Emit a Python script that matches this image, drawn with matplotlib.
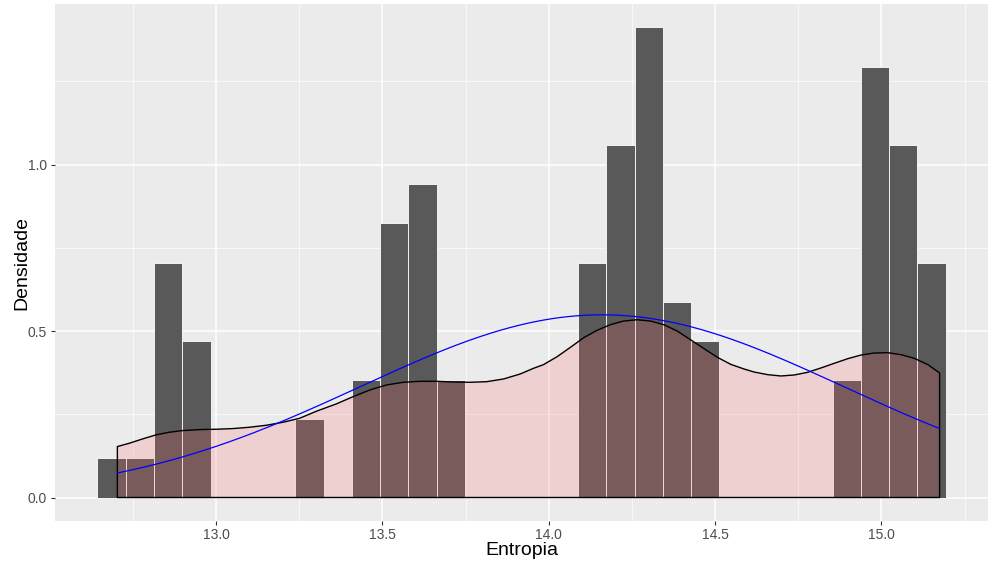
import numpy as np
import matplotlib
matplotlib.use("Agg")
import matplotlib.pyplot as plt
from matplotlib.ticker import MultipleLocator

plt.rcParams['font.family'] = ['Liberation Sans', 'DejaVu Sans']

# histogram: 30 bins, counts out of n = 100
bin_start = 12.643
bin_width = 0.085
counts = [1, 1, 6, 4, 0, 0, 0, 2, 0, 3, 7, 8, 3, 0, 0,
          0, 0, 6, 9, 12, 5, 4, 0, 0, 0, 0, 3, 11, 9, 6]
n_obs = 100

# kernel density curve
kde_x = [12.703, 12.739, 12.779, 12.819, 12.859, 12.899, 12.950, 13.000,
         13.050, 13.100, 13.151, 13.201, 13.251, 13.301, 13.361, 13.412,
         13.462, 13.512, 13.562, 13.613, 13.663, 13.713, 13.763, 13.814,
         13.864, 13.914, 13.954, 13.984, 14.025, 14.065, 14.105, 14.145,
         14.185, 14.225, 14.266, 14.306, 14.346, 14.386, 14.426, 14.467,
         14.507, 14.547, 14.587, 14.617, 14.658, 14.698, 14.738, 14.778,
         14.818, 14.858, 14.899, 14.939, 14.979, 15.019, 15.059, 15.099,
         15.140, 15.175]
kde_y = [0.153, 0.163, 0.176, 0.188, 0.196, 0.201, 0.204, 0.205,
         0.207, 0.211, 0.217, 0.226, 0.238, 0.259, 0.281, 0.303,
         0.323, 0.338, 0.346, 0.349, 0.349, 0.347, 0.346, 0.348,
         0.356, 0.371, 0.388, 0.399, 0.423, 0.451, 0.480, 0.502,
         0.519, 0.530, 0.534, 0.530, 0.519, 0.500, 0.474, 0.447,
         0.421, 0.400, 0.386, 0.377, 0.369, 0.365, 0.368, 0.376,
         0.389, 0.403, 0.417, 0.428, 0.434, 0.435, 0.429, 0.418,
         0.399, 0.374]

# normal curve parameters (mean / sd of the sample)
norm_mean = 14.16
norm_sd = 0.727

edges = bin_start + bin_width * np.arange(len(counts) + 1)
dens = np.array(counts) / (n_obs * bin_width)

fig = plt.figure(figsize=(9.91, 5.66), dpi=100)
ax = fig.add_axes([55 / 991, 45 / 566, 933 / 991, 517 / 566])
ax.set_facecolor('#EBEBEB')
for s in ax.spines.values():
    s.set_visible(False)

ax.bar(edges[:-1], dens, width=bin_width, align='edge', color='#595959',
       edgecolor='white', linewidth=0.6, zorder=2)

px = [kde_x[0]] + kde_x + [kde_x[-1]]
py = [0] + kde_y + [0]
ax.fill(px, py, facecolor='#FF6666', alpha=0.2, edgecolor='none', zorder=3)
ax.fill(px, py, facecolor='none', edgecolor='black', linewidth=1.0,
        joinstyle='round', zorder=4)

xs = np.linspace(kde_x[0], kde_x[-1], 200)
ys = np.exp(-0.5 * ((xs - norm_mean) / norm_sd) ** 2) / (norm_sd * np.sqrt(2 * np.pi))
ax.plot(xs, ys, color='blue', linewidth=0.9, zorder=5)

# ggplot-like expansion
xr = edges[-1] - edges[0]
ax.set_xlim(edges[0] - 0.05 * xr, edges[-1] + 0.05 * xr)
ymax = dens.max()
ax.set_ylim(-0.05 * ymax, ymax * 1.05)

ax.set_xticks([13.0, 13.5, 14.0, 14.5, 15.0])
ax.set_xticklabels(['13.0', '13.5', '14.0', '14.5', '15.0'])
ax.set_yticks([0.0, 0.5, 1.0])
ax.set_yticklabels(['0.0', '0.5', '1.0'])
ax.xaxis.set_minor_locator(MultipleLocator(0.25))
ax.yaxis.set_minor_locator(MultipleLocator(0.25))
ax.tick_params(which='major', length=3, width=0.8, color='#333333',
               labelcolor='#4D4D4D', labelsize=10, pad=3)
ax.tick_params(axis='x', which='major', pad=2)
ax.tick_params(which='minor', length=0)
ax.grid(which='major', color='white', linewidth=1.1, zorder=0)
ax.grid(which='minor', color='white', linewidth=0.5, zorder=0)
ax.set_axisbelow(True)

ax.set_xlabel('Entropia', fontsize=14, labelpad=0)
ax.set_ylabel('Densidade', fontsize=14, labelpad=-2)

fig.savefig('out.png', dpi=100)
